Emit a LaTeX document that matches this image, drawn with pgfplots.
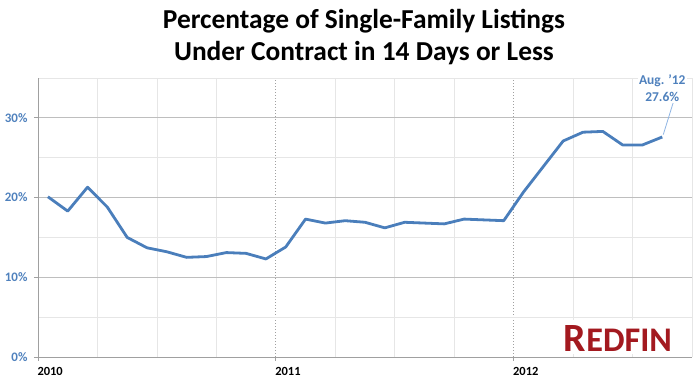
\documentclass[border=0pt]{standalone}
\usepackage{fontspec}
\setmainfont{Carlito}
\usepackage{graphicx}
\usepackage{pgfplots}
\pgfplotsset{compat=1.18}
\definecolor{lineblue}{HTML}{4A7EBB}
\definecolor{tickblue}{HTML}{4F81BD}
\definecolor{leadblue}{HTML}{8EB4E3}
\definecolor{majgray}{HTML}{BEBEBE}
\definecolor{mingray}{HTML}{E6E6E6}
\definecolor{dotgray}{HTML}{A0A0A0}
\definecolor{redfin}{HTML}{A3191F}
\begin{document}
\begin{tikzpicture}
\useasboundingbox (0,0) rectangle (700bp,386bp);
\node[anchor=base, font=\bfseries\fontsize{27.5}{27.5}\selectfont] at (364bp,357bp) {Percentage of Single-Family Listings};
\node[anchor=base, font=\bfseries\fontsize{27.5}{27.5}\selectfont] at (364bp,325bp) {Under Contract in 14 Days or Less};
\begin{axis}[
  at={(38bp,29bp)}, anchor=south west,
  scale only axis, width=654bp, height=279bp,
  xmin=0, xmax=33, ymin=0, ymax=35,
  clip=false,
  axis x line*=bottom, axis y line*=left,
  axis line style={draw=dotgray, line width=0.8bp, -},
  xtick={0,12,24}, xticklabels={2010,2011,2012},
  ytick={0,10,20,30}, yticklabels={0\%,10\%,20\%,30\%},
  minor xtick={3,6,9,15,18,21,27,30,33},
  minor ytick={5,15,25,35},
  xmajorgrids, xminorgrids, ymajorgrids, yminorgrids,
  major x grid style={draw=dotgray, line width=0.8bp, dash pattern=on 1bp off 2bp},
  minor x grid style={draw=mingray, line width=0.8bp, solid},
  major y grid style={draw=majgray, line width=0.8bp, solid},
  minor y grid style={draw=mingray, line width=0.8bp, solid},
  tick align=outside, major tick length=4bp, minor tick length=0pt,
  tick style={draw=dotgray, line width=0.8bp, solid},
  yticklabel style={text=tickblue, font=\bfseries\fontsize{13}{13}\selectfont, xshift=-3bp},
  xticklabel style={text=black, font=\bfseries\fontsize{12.5}{12.5}\selectfont, anchor=north west, xshift=-4bp, yshift=-3bp},
]
\addplot[lineblue, line width=2.8bp, line join=round] coordinates {
(0.5,20.1) (1.5,18.3) (2.5,21.3) (3.5,18.8) (4.5,15.0) (5.5,13.7) (6.5,13.2) (7.5,12.5)
(8.5,12.6) (9.5,13.1) (10.5,13.0) (11.5,12.3) (12.5,13.8) (13.5,17.3) (14.5,16.8) (15.5,17.1)
(16.5,16.9) (17.5,16.2) (18.5,16.9) (19.5,16.8) (20.5,16.7) (21.5,17.3) (22.5,17.2) (23.5,17.1)
(24.5,20.7) (25.5,23.9) (26.5,27.1) (27.5,28.2) (28.5,28.3) (29.5,26.6) (30.5,26.6) (31.5,27.6)
};
\draw[leadblue, line width=0.8bp] (axis cs:32.05,31.9) -- (axis cs:31.55,27.9);
\node[fill=white, inner sep=1bp, align=center, text=tickblue, font=\bfseries\fontsize{13.5}{17}\selectfont] at (axis cs:31.5,33.7) {Aug. '12\\27.6\%};
\fill[white] (axis cs:26.3,0.35) rectangle (axis cs:32.9,4.7);
\node[anchor=south east, inner sep=0pt, text=redfin] at (axis cs:32.0,0.65) {\resizebox{108bp}{26bp}{\bfseries\fontsize{36}{36}\selectfont R\fontsize{31}{31}\selectfont EDFIN}};
\end{axis}
\end{tikzpicture}
\end{document}
